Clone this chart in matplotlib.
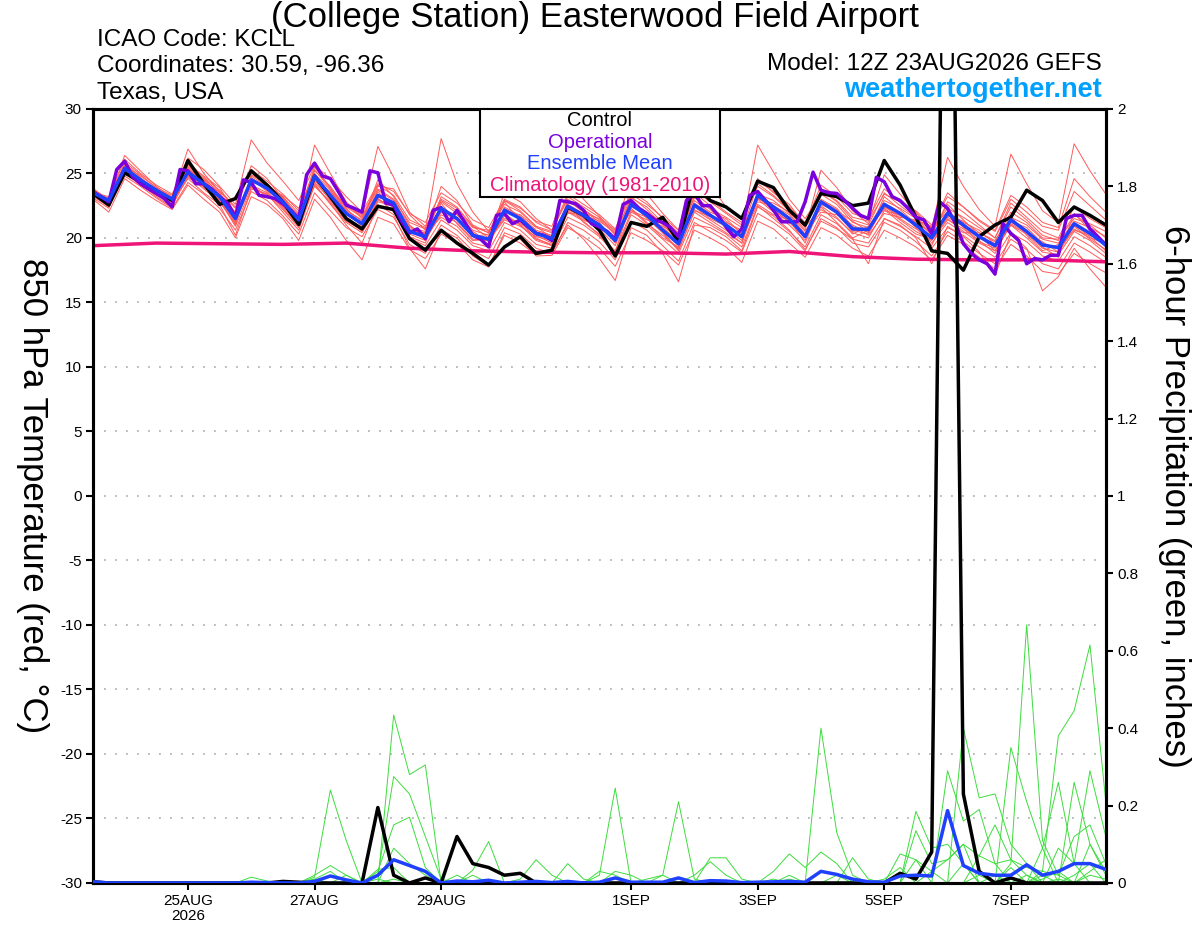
import matplotlib.pyplot as plt
import numpy as np
from matplotlib.patches import Rectangle

plt.rcParams['font.family'] = ['Liberation Sans', 'DejaVu Sans']
plt.rcParams['axes.unicode_minus'] = False

# forecast hours after 12Z 23AUG2026
hours = np.arange(0, 385, 6)
hours_op = np.arange(0, 385, 3)
clim_hours = np.arange(0, 385, 24)

tick_hours = [36, 84, 132, 204, 252, 300, 348]
tick_labels = ['25AUG\n2026', '27AUG', '29AUG', '1SEP', '3SEP', '5SEP', '7SEP']

# 850 hPa temperature, ensemble members (deg C)
temp_members = [
    [23.8, 23.0, 26.1, 25.0, 24.1, 23.4, 26.2, 25.3, 24.0, 22.6, 27.6, 25.8, 24.4,
     22.9, 25.6, 24.6, 23.2, 22.0, 24.2, 23.6, 21.9, 21.2, 23.5, 22.7, 21.4, 20.8,
     23.0, 22.4, 21.2, 20.6, 23.4, 22.6, 21.8, 20.7, 23.6, 22.8, 21.5, 20.4, 23.9,
     23.0, 22.0, 21.2, 24.6, 23.5, 22.6, 21.0, 24.1, 23.2, 21.9, 21.5, 23.8, 22.8,
     21.9, 20.8, 23.5, 22.4, 21.3, 20.5, 23.0, 22.0, 20.9, 20.6, 23.6, 22.5, 21.4],
    [23.2, 22.5, 24.8, 24.0, 23.1, 22.3, 24.3, 23.4, 22.3, 20.6, 23.6, 22.9, 21.7,
     20.3, 23.5, 22.1, 20.8, 20.1, 22.2, 21.6, 19.5, 18.8, 21.0, 20.2, 19.0, 18.4,
     20.8, 20.3, 19.2, 18.8, 21.2, 20.6, 19.7, 18.3, 21.3, 20.6, 19.4, 18.2, 21.2,
     20.5, 19.8, 18.9, 21.9, 21.2, 20.3, 19.0, 21.5, 20.8, 19.6, 19.3, 21.2, 20.6,
     19.7, 18.6, 20.5, 19.7, 18.8, 18.0, 19.9, 19.1, 18.0, 17.6, 19.6, 18.9, 18.1],
    [23.6, 22.7, 25.8, 24.7, 23.5, 22.6, 25.5, 24.4, 23.0, 21.0, 24.9, 24.2, 23.1,
     21.6, 27.2, 25.0, 22.8, 21.5, 24.0, 23.8, 21.8, 20.6, 27.7, 24.2, 22.0, 20.5,
     22.6, 22.0, 20.9, 20.0, 22.0, 21.3, 20.2, 19.0, 22.0, 21.4, 20.9, 20.2, 23.1,
     22.3, 21.6, 20.8, 23.0, 22.7, 22.0, 20.9, 22.2, 21.5, 20.4, 20.0, 22.1, 21.8,
     21.2, 20.4, 22.6, 21.4, 20.2, 19.0, 21.0, 20.0, 18.9, 18.7, 20.5, 19.8, 18.8],
    [23.4, 23.1, 25.2, 24.3, 23.8, 23.2, 24.9, 24.0, 23.4, 22.0, 24.0, 23.3, 22.5,
     21.0, 24.4, 23.6, 22.6, 21.8, 27.1, 24.7, 22.0, 20.9, 22.8, 21.9, 20.6, 20.2,
     21.8, 21.0, 19.8, 19.4, 22.8, 22.2, 21.4, 20.3, 23.2, 22.2, 21.0, 19.9, 22.6,
     21.8, 21.2, 20.6, 27.2, 25.1, 23.0, 21.5, 23.4, 22.6, 21.2, 20.8, 22.9, 22.3,
     21.5, 20.6, 22.3, 21.6, 20.8, 20.0, 22.4, 21.4, 20.2, 19.8, 21.8, 21.0, 20.0],
    [23.3, 22.4, 25.1, 24.6, 23.6, 22.8, 24.6, 23.5, 22.6, 20.2, 23.8, 23.4, 22.0,
     20.6, 24.1, 22.7, 21.0, 19.6, 22.6, 21.8, 19.2, 17.6, 20.6, 20.0, 18.6, 17.8,
     20.2, 19.6, 18.7, 18.9, 21.0, 19.9, 18.4, 16.7, 20.8, 20.2, 18.8, 16.6, 21.0,
     20.8, 20.1, 19.0, 22.4, 21.7, 20.6, 19.1, 21.3, 20.7, 19.9, 18.0, 21.5, 21.0,
     20.0, 18.0, 20.9, 20.1, 18.9, 17.1, 20.3, 19.2, 15.9, 17.0, 19.2, 17.6, 16.2],
    [23.7, 22.9, 26.4, 25.2, 24.0, 23.1, 26.9, 25.0, 23.6, 22.3, 25.3, 24.4, 23.4,
     22.1, 25.2, 24.0, 22.3, 21.0, 23.7, 22.9, 20.9, 20.3, 24.0, 22.9, 21.0, 20.4,
     22.9, 22.3, 21.3, 20.9, 24.3, 23.0, 21.7, 20.2, 25.0, 23.4, 21.9, 20.6, 25.5,
     24.1, 22.4, 21.4, 24.0, 23.2, 22.1, 20.6, 25.25, 23.9, 22.1, 21.1, 24.9, 23.4,
     22.0, 20.7, 26.25, 24.0, 22.2, 20.9, 26.5, 24.2, 22.1, 21.2, 27.3, 25.2, 23.4],
    [23.5, 23.2, 25.6, 24.8, 23.9, 22.9, 25.3, 24.6, 23.5, 21.4, 24.6, 23.6, 22.3,
     20.9, 24.9, 23.1, 21.6, 20.8, 23.0, 22.4, 20.3, 19.8, 22.0, 21.4, 20.4, 19.5,
     21.9, 21.0, 19.9, 19.5, 22.3, 21.5, 20.7, 19.4, 22.4, 21.9, 20.8, 19.8, 22.2,
     21.4, 20.6, 19.6, 23.0, 22.0, 21.0, 19.8, 22.5, 21.6, 20.3, 20.9, 22.3, 21.4,
     20.5, 19.8, 21.4, 20.7, 19.7, 19.2, 21.1, 20.4, 19.7, 18.9, 20.7, 20.0, 19.6],
    [23.9, 22.6, 25.0, 24.1, 23.3, 22.7, 25.7, 24.8, 23.9, 21.9, 24.2, 23.1, 22.9,
     21.8, 25.5, 23.9, 22.1, 21.4, 23.6, 22.3, 20.1, 19.6, 22.7, 21.1, 19.8, 19.9,
     21.5, 21.2, 20.0, 19.4, 21.9, 21.9, 21.5, 20.5, 22.2, 21.1, 20.2, 19.2, 22.9,
     22.0, 21.5, 20.3, 22.8, 22.5, 21.8, 20.3, 22.0, 21.8, 21.0, 20.4, 23.2, 22.2,
     21.1, 19.6, 21.2, 20.4, 20.4, 19.7, 22.0, 21.2, 20.0, 19.9, 21.5, 21.1, 20.5],
    [23.1, 22.3, 25.5, 24.4, 23.4, 22.5, 24.8, 23.8, 22.8, 21.1, 24.8, 24.0, 22.6,
     21.2, 24.6, 23.4, 22.2, 21.3, 23.1, 22.0, 20.6, 20.4, 21.6, 20.9, 19.6, 19.3,
     22.4, 21.7, 20.6, 20.2, 22.6, 21.2, 20.3, 18.9, 22.8, 21.5, 20.4, 19.1, 22.0,
     21.2, 20.4, 19.6, 23.6, 22.2, 21.2, 20.0, 23.0, 22.3, 20.9, 20.2, 21.9, 21.6,
     21.4, 20.9, 22.0, 21.2, 20.6, 19.5, 21.7, 20.2, 19.0, 19.5, 21.0, 20.1, 19.0],
    [23.6, 22.8, 25.3, 24.6, 23.7, 22.9, 25.0, 24.3, 23.1, 21.2, 24.3, 24.1, 23.2,
     21.5, 24.0, 22.8, 21.3, 20.6, 22.8, 22.5, 20.8, 20.5, 22.9, 22.1, 20.8, 20.6,
     22.0, 21.8, 20.8, 20.4, 22.1, 21.4, 20.8, 19.9, 22.5, 21.9, 21.3, 20.3, 22.4,
     21.5, 20.9, 20.2, 23.4, 22.9, 21.9, 20.5, 22.4, 21.2, 20.0, 20.6, 22.4, 21.7,
     21.3, 20.3, 21.7, 21.3, 20.4, 19.8, 21.6, 21.0, 19.9, 19.6, 21.3, 20.8, 20.1],
    [23.4, 22.6, 25.9, 24.9, 23.9, 23.3, 25.9, 24.7, 23.7, 22.4, 25.6, 24.6, 23.0,
     21.3, 24.3, 23.0, 21.8, 21.2, 24.5, 23.2, 21.0, 20.0, 23.2, 22.4, 20.9, 20.0,
     23.5, 22.8, 21.5, 20.6, 23.0, 22.2, 21.2, 19.6, 23.1, 22.4, 21.2, 19.7, 23.5,
     22.5, 21.3, 20.4, 24.2, 23.3, 22.2, 20.8, 23.7, 22.8, 21.4, 21.0, 23.5, 22.5,
     21.6, 20.2, 22.8, 22.0, 21.0, 20.0, 22.7, 21.6, 20.5, 20.0, 22.4, 21.5, 20.8],
    [23.0, 22.0, 24.6, 23.7, 22.9, 22.2, 24.1, 23.0, 22.0, 20.0, 23.2, 22.6, 21.5,
     19.8, 23.0, 21.6, 19.8, 18.3, 21.6, 21.1, 19.1, 18.4, 20.3, 19.6, 18.3, 17.75,
     20.4, 19.9, 18.6, 18.65, 20.8, 20.1, 19.2, 17.8, 20.4, 19.8, 19.0, 17.9, 20.6,
     20.0, 19.3, 18.1, 21.3, 20.7, 19.6, 18.5, 20.8, 20.2, 19.2, 18.6, 20.6, 20.0,
     19.3, 18.3, 20.2, 19.5, 18.5, 17.6, 19.5, 18.6, 17.4, 17.2, 18.8, 18.0, 17.3],
    [23.5, 22.7, 25.4, 24.2, 23.2, 22.4, 25.2, 24.5, 23.3, 21.7, 24.7, 23.7, 22.7,
     21.7, 25.0, 23.7, 22.0, 20.9, 23.4, 22.8, 20.4, 20.2, 22.4, 21.6, 20.1, 20.3,
     22.8, 21.3, 20.2, 19.6, 22.9, 22.0, 21.0, 20.0, 22.1, 21.6, 20.5, 19.4, 23.3,
     22.2, 21.1, 20.0, 22.6, 21.8, 21.4, 19.6, 22.6, 22.1, 21.3, 20.5, 22.7, 22.0,
     20.8, 19.4, 22.1, 20.8, 19.8, 18.8, 21.2, 20.6, 19.3, 18.5, 21.9, 20.6, 19.3],
    [23.3, 22.9, 25.5, 24.5, 23.6, 22.9, 25.4, 24.1, 22.9, 21.6, 24.4, 23.9, 23.3,
     22.3, 24.7, 23.5, 22.4, 21.6, 23.8, 23.0, 21.2, 20.7, 22.2, 21.8, 20.5, 19.7,
     21.7, 21.1, 20.4, 20.1, 22.5, 21.8, 21.3, 20.4, 22.9, 21.8, 20.4, 19.0, 22.1,
     21.7, 21.0, 20.0, 23.2, 22.1, 21.3, 20.2, 22.9, 22.2, 20.6, 20.3, 22.5, 21.5,
     20.7, 20.1, 21.6, 20.9, 20.0, 19.3, 21.3, 20.8, 19.6, 19.2, 20.6, 20.2, 19.7],
    [23.7, 23.0, 25.1, 24.3, 23.5, 23.0, 25.0, 24.0, 23.1, 21.3, 24.1, 23.5, 22.4,
     21.1, 24.5, 22.9, 21.5, 20.5, 22.9, 22.6, 20.6, 19.9, 21.8, 21.2, 19.9, 19.8,
     21.4, 20.9, 20.1, 19.8, 22.2, 21.6, 20.9, 19.7, 22.3, 21.2, 20.0, 19.3, 22.7,
     21.9, 20.8, 19.8, 23.1, 22.3, 21.6, 20.0, 22.7, 21.9, 20.5, 20.8, 22.2, 21.2,
     20.3, 19.9, 21.5, 20.5, 19.6, 19.0, 21.0, 20.3, 19.2, 18.9, 20.9, 19.9, 19.1],
    [23.6, 22.8, 25.7, 24.6, 23.8, 23.1, 25.6, 24.6, 23.5, 21.8, 24.6, 24.0, 23.2,
     21.9, 25.3, 23.8, 22.5, 21.7, 24.1, 23.3, 21.4, 20.8, 23.0, 22.3, 20.9, 20.4,
     22.9, 22.1, 20.9, 20.5, 23.2, 22.4, 21.6, 20.6, 23.4, 22.6, 21.6, 20.6, 23.7,
     22.8, 21.9, 21.0, 24.4, 23.6, 22.4, 21.2, 23.6, 22.9, 21.6, 21.3, 23.4, 22.8,
     22.1, 21.0, 23.2, 22.4, 21.4, 20.6, 23.3, 22.4, 21.2, 20.8, 24.6, 23.2, 22.0],
    [23.4, 22.5, 25.2, 24.4, 23.6, 22.6, 24.7, 23.9, 22.9, 20.9, 23.9, 23.4, 22.2,
     20.8, 24.2, 22.6, 21.2, 20.4, 22.5, 22.1, 20.0, 19.4, 21.4, 20.6, 19.4, 19.0,
     21.2, 20.6, 19.5, 19.2, 21.6, 21.0, 20.1, 18.8, 21.8, 21.0, 19.9, 18.8, 21.6,
     21.0, 20.3, 19.3, 22.5, 21.5, 20.5, 19.3, 21.8, 21.1, 19.9, 19.6, 21.5, 20.9,
     20.1, 19.2, 20.8, 20.2, 19.3, 18.5, 20.4, 19.7, 18.6, 18.2, 20.1, 19.4, 18.5],
    [23.5, 22.9, 25.3, 24.5, 23.7, 23.0, 25.2, 24.2, 23.3, 21.6, 24.5, 23.8, 22.8,
     21.4, 24.8, 23.3, 21.9, 21.0, 23.2, 22.7, 20.7, 20.2, 22.4, 21.5, 20.2, 20.0,
     22.3, 21.6, 20.5, 20.1, 22.6, 21.9, 21.1, 19.9, 22.6, 21.7, 20.7, 19.6, 22.6,
     21.8, 21.1, 20.2, 23.4, 22.5, 21.6, 20.2, 22.8, 22.0, 20.8, 20.7, 22.6, 21.9,
     21.0, 20.1, 21.9, 21.0, 20.1, 19.5, 21.4, 20.5, 19.5, 19.3, 21.1, 20.4, 19.5],
]

temp_control = [
    23.45, 22.55, 25.05, 24.35, 23.6, 22.9, 26.0, 24.2, 22.6, 23.05, 25.2, 24.1, 22.8,
    21.05, 24.8, 23.2, 21.5, 20.7, 22.45, 22.2, 19.95, 19.05, 20.6, 19.6, 18.8, 17.9,
    19.3, 20.1, 18.8, 19.05, 22.4, 21.75, 20.6, 18.6, 21.2, 20.9, 21.6, 19.7, 24.3,
    22.9, 22.4, 21.5, 24.4, 23.9, 22.15, 21.0, 23.45, 23.2, 22.5, 22.7, 26.0, 24.1,
    21.6, 19.0, 18.8, 17.5, 20.1, 21.0, 21.6, 23.7, 22.9, 21.2, 22.4, 21.75, 21.0]

temp_mean = [
    23.5, 22.9, 25.4, 24.5, 23.7, 23.0, 25.1, 24.2, 23.2, 21.5, 24.5, 23.85, 22.8,
    21.4, 24.8, 23.3, 21.9, 21.1, 23.3, 22.7, 20.5, 20.1, 22.3, 21.5, 20.2, 19.9,
    22.15, 21.5, 20.35, 19.95, 22.45, 21.75, 21.0, 19.8, 22.6, 21.75, 20.6, 19.55, 22.55,
    21.75, 21.0, 20.1, 23.3, 22.4, 21.5, 20.1, 22.8, 22.0, 20.7, 20.65, 22.6, 21.9,
    21.0, 20.0, 21.9, 21.0, 20.1, 19.4, 21.4, 20.5, 19.45, 19.25, 21.1, 20.35, 19.45]

# operational run, 3-hourly
temp_oper = [
    23.58, 23.2, 22.8, 25.3, 25.95, 24.75, 24.2, 23.8, 23.45, 23.05, 22.4, 25.3, 25.2, 24.2, 24.2, 23.8,
    23.2, 22.7, 21.6, 24.5, 24.3, 23.3, 23.2, 23.05, 22.65, 22.15, 21.5, 24.9, 25.8, 24.8, 24.6, 23.6,
    22.55, 22.3, 22.0, 25.2, 25.05, 22.7, 22.55, 21.3, 20.4, 20.7, 19.95, 22.15, 22.35, 21.25, 22.15, 21.2,
    20.2, 19.9, 19.3, 21.75, 21.9, 21.1, 21.4, 20.85, 20.35, 20.2, 19.8, 22.9, 22.8, 22.65, 22.15, 21.1,
    20.85, 20.5, 19.9, 22.6, 22.9, 22.3, 21.9, 21.4, 21.2, 20.8, 20.1, 22.9, 23.5, 22.5, 22.5, 21.75,
    20.85, 20.1, 20.7, 23.3, 23.6, 22.9, 22.15, 21.25, 21.25, 21.25, 22.8, 25.1, 23.7, 23.5, 23.45, 22.9,
    22.3, 21.75, 21.5, 24.7, 24.35, 23.2, 22.9, 22.3, 21.6, 21.4, 20.35, 22.8, 22.3, 21.1, 19.55, 18.8,
    18.3, 18.0, 17.2, 21.1, 20.35, 19.8, 18.0, 18.4, 18.3, 18.65, 18.65, 21.5, 21.75, 21.75, 20.7, 20.1,
    19.45]

temp_clim = [19.4, 19.6, 19.55, 19.5, 19.6, 19.2, 19.0, 18.9, 18.85,
             18.85, 18.75, 18.95, 18.55, 18.35, 18.3, 18.3, 18.15]

# 6-hour precipitation, ensemble members (inches)
precip_members = [
    [0.005, 0, 0, 0, 0, 0, 0, 0, 0, 0, 0, 0, 0,
     0, 0, 0, 0, 0, 0, 0.434, 0.28, 0.305, 0, 0, 0, 0,
     0, 0, 0, 0, 0, 0, 0, 0, 0, 0, 0, 0, 0,
     0, 0, 0, 0, 0, 0, 0, 0, 0, 0, 0, 0, 0,
     0, 0, 0, 0, 0, 0, 0.05, 0.667, 0.11, 0.02, 0, 0, 0],
    [0, 0, 0, 0, 0, 0, 0, 0, 0, 0, 0, 0, 0,
     0, 0, 0, 0, 0, 0.02, 0.275, 0.23, 0.12, 0.01, 0, 0, 0,
     0, 0, 0, 0, 0, 0, 0, 0, 0, 0, 0, 0, 0,
     0, 0, 0, 0, 0, 0, 0, 0, 0, 0, 0, 0, 0,
     0, 0, 0, 0, 0, 0, 0, 0, 0.03, 0.38, 0.445, 0.615, 0.21],
    [0, 0, 0, 0, 0, 0, 0, 0, 0, 0, 0, 0, 0,
     0, 0.02, 0.045, 0.02, 0, 0.03, 0.15, 0.17, 0.04, 0, 0, 0, 0,
     0, 0, 0, 0, 0, 0, 0, 0, 0, 0, 0, 0, 0,
     0, 0, 0, 0, 0, 0, 0, 0, 0, 0, 0, 0, 0,
     0, 0, 0.29, 0.16, 0.19, 0.05, 0, 0, 0, 0, 0, 0, 0],
    [0, 0, 0, 0, 0, 0, 0, 0, 0, 0, 0, 0, 0,
     0, 0.015, 0.24, 0.11, 0, 0, 0, 0, 0, 0, 0, 0, 0,
     0, 0, 0, 0, 0, 0, 0, 0, 0, 0, 0, 0, 0,
     0, 0, 0, 0, 0, 0, 0, 0.40, 0.13, 0.02, 0, 0, 0,
     0, 0, 0, 0, 0, 0, 0.35, 0.21, 0.09, 0.26, 0.05, 0.29, 0.12],
    [0, 0, 0, 0, 0, 0, 0, 0, 0, 0, 0, 0, 0,
     0, 0, 0, 0, 0, 0, 0.09, 0.05, 0.02, 0, 0, 0, 0,
     0, 0, 0, 0, 0, 0, 0.02, 0.245, 0, 0, 0, 0, 0,
     0, 0, 0, 0, 0, 0, 0, 0, 0, 0, 0, 0, 0,
     0, 0, 0, 0.40, 0.22, 0.23, 0.1, 0.05, 0, 0, 0, 0, 0],
    [0, 0, 0, 0, 0, 0, 0, 0, 0, 0, 0, 0, 0,
     0, 0, 0, 0, 0, 0, 0, 0, 0, 0, 0, 0, 0,
     0, 0, 0, 0, 0, 0, 0, 0, 0, 0, 0.02, 0.21, 0.01,
     0, 0, 0, 0, 0, 0, 0, 0, 0, 0, 0, 0, 0,
     0.185, 0.09, 0.1, 0.05, 0, 0, 0, 0, 0, 0, 0, 0, 0],
    [0, 0, 0, 0, 0, 0, 0, 0, 0, 0, 0, 0, 0,
     0, 0, 0, 0, 0, 0, 0, 0, 0, 0, 0, 0.033, 0.107,
     0, 0, 0, 0, 0, 0, 0, 0, 0, 0, 0, 0, 0,
     0, 0, 0, 0, 0, 0, 0, 0, 0, 0, 0, 0, 0,
     0.135, 0.05, 0.06, 0.1, 0.07, 0.15, 0.06, 0.02, 0, 0, 0, 0, 0],
    [0, 0, 0, 0, 0, 0, 0, 0, 0, 0, 0, 0, 0,
     0, 0, 0, 0, 0, 0, 0, 0, 0, 0, 0, 0, 0,
     0, 0, 0, 0, 0, 0, 0, 0, 0, 0, 0, 0, 0,
     0, 0, 0, 0, 0.03, 0.075, 0.04, 0.08, 0.05, 0, 0, 0, 0,
     0, 0, 0, 0, 0, 0, 0, 0, 0, 0, 0, 0.1, 0.03],
    [0, 0, 0, 0, 0, 0, 0, 0, 0, 0, 0, 0, 0,
     0, 0, 0, 0, 0, 0, 0, 0, 0, 0, 0, 0, 0,
     0, 0.01, 0.06, 0.02, 0, 0, 0, 0, 0, 0, 0, 0, 0,
     0.065, 0.065, 0.01, 0, 0, 0, 0, 0, 0, 0, 0, 0, 0.075,
     0.06, 0.03, 0, 0, 0, 0, 0, 0, 0, 0.09, 0.05, 0, 0],
    [0, 0, 0, 0, 0, 0, 0, 0, 0, 0, 0, 0, 0,
     0, 0, 0, 0, 0, 0, 0, 0, 0, 0, 0, 0, 0,
     0, 0, 0, 0, 0.05, 0.01, 0, 0.03, 0.02, 0, 0, 0, 0.02,
     0.055, 0.02, 0, 0, 0, 0, 0, 0, 0, 0, 0, 0, 0,
     0, 0, 0, 0, 0.07, 0.05, 0.06, 0.04, 0.03, 0.02, 0.12, 0.15, 0.05],
    [0, 0, 0, 0, 0, 0, 0, 0, 0, 0, 0.015, 0.005, 0,
     0, 0.01, 0.03, 0, 0, 0.035, 0.04, 0, 0, 0, 0, 0, 0,
     0, 0, 0, 0, 0, 0, 0, 0, 0, 0.01, 0.02, 0, 0,
     0, 0, 0, 0, 0, 0, 0, 0, 0, 0.065, 0.01, 0, 0,
     0, 0.03, 0.06, 0.1, 0, 0, 0, 0, 0.09, 0, 0, 0, 0],
    [0.005, 0.003, 0, 0, 0, 0, 0, 0, 0, 0, 0, 0, 0,
     0, 0, 0, 0, 0, 0, 0, 0, 0, 0, 0.02, 0, 0,
     0, 0, 0, 0, 0, 0, 0.03, 0.02, 0, 0, 0, 0, 0,
     0, 0, 0, 0, 0, 0.02, 0, 0, 0, 0, 0, 0.01, 0.04,
     0, 0, 0, 0, 0, 0, 0, 0, 0, 0, 0.26, 0.1, 0.02],
    [0, 0, 0, 0, 0, 0, 0, 0, 0, 0, 0, 0, 0,
     0, 0.01, 0, 0.02, 0, 0.01, 0, 0, 0, 0, 0, 0.02, 0,
     0, 0, 0, 0, 0, 0, 0, 0, 0, 0, 0, 0, 0,
     0, 0, 0, 0, 0.01, 0, 0, 0, 0.02, 0, 0, 0, 0,
     0.06, 0, 0, 0, 0, 0, 0, 0, 0, 0, 0, 0, 0],
    [0, 0, 0, 0, 0, 0, 0, 0, 0, 0, 0, 0, 0,
     0, 0, 0, 0, 0, 0, 0, 0, 0, 0, 0, 0, 0,
     0, 0, 0, 0, 0, 0, 0, 0, 0, 0, 0, 0, 0.005,
     0, 0, 0, 0, 0, 0, 0, 0, 0, 0, 0, 0, 0,
     0, 0, 0, 0.05, 0, 0.02, 0, 0, 0.01, 0.03, 0, 0.02, 0.01],
    [0, 0, 0, 0, 0, 0, 0, 0, 0, 0, 0, 0, 0,
     0, 0, 0, 0, 0, 0, 0.01, 0, 0, 0, 0, 0, 0,
     0, 0, 0, 0, 0, 0, 0, 0, 0, 0, 0, 0, 0,
     0, 0, 0, 0, 0, 0, 0, 0, 0, 0, 0, 0, 0,
     0, 0, 0, 0, 0.02, 0, 0.04, 0, 0, 0, 0.02, 0.05, 0],
    [0, 0, 0, 0, 0, 0, 0, 0, 0, 0, 0, 0, 0,
     0, 0, 0, 0, 0, 0, 0, 0, 0, 0, 0, 0, 0,
     0, 0, 0, 0, 0, 0, 0, 0, 0, 0, 0, 0, 0,
     0, 0, 0, 0, 0, 0, 0, 0, 0, 0, 0, 0, 0,
     0, 0, 0, 0, 0, 0, 0, 0.02, 0, 0.01, 0, 0.03, 0.06],
    [0.003, 0, 0, 0, 0, 0, 0, 0, 0, 0, 0, 0, 0,
     0, 0, 0, 0, 0, 0, 0, 0, 0, 0, 0, 0, 0,
     0, 0, 0, 0, 0, 0, 0, 0, 0, 0, 0, 0, 0,
     0, 0, 0, 0, 0, 0, 0, 0, 0, 0, 0, 0, 0,
     0, 0, 0, 0, 0, 0, 0.01, 0, 0.02, 0, 0, 0, 0],
    [0, 0, 0, 0, 0, 0, 0, 0, 0, 0, 0, 0, 0,
     0, 0, 0, 0, 0, 0, 0, 0, 0, 0, 0, 0, 0,
     0, 0, 0, 0, 0, 0, 0, 0, 0, 0, 0, 0, 0,
     0, 0, 0, 0, 0, 0.01, 0, 0, 0, 0, 0, 0, 0,
     0, 0, 0, 0, 0, 0, 0, 0, 0, 0, 0, 0, 0],
]

precip_control = [
    0.003, 0, 0, 0, 0, 0, 0, 0, 0, 0, 0, 0, 0.004,
    0.002, 0, 0, 0, 0, 0.195, 0.02, 0, 0.013, 0, 0.12, 0.05, 0.04,
    0.02, 0.025, 0, 0, 0, 0, 0, 0, 0, 0, 0, 0, 0,
    0, 0, 0, 0, 0, 0, 0, 0, 0, 0, 0, 0, 0.025,
    0.01, 0.08, 3.6, 0.23, 0.03, 0, 0.013, 0, 0, 0, 0, 0, 0]

precip_mean = [
    0.003, 0, 0, 0, 0, 0, 0, 0, 0, 0, 0.002, 0.001, 0,
    0, 0.004, 0.018, 0.008, 0, 0.02, 0.06, 0.045, 0.03, 0, 0.005, 0.003, 0.007,
    0, 0.002, 0.004, 0.001, 0.004, 0, 0.002, 0.013, 0.002, 0.002, 0.002, 0.013, 0.001,
    0.006, 0.005, 0.001, 0.002, 0.003, 0.004, 0.002, 0.03, 0.022, 0.01, 0.003, 0.002, 0.018,
    0.02, 0.018, 0.187, 0.045, 0.025, 0.02, 0.02, 0.047, 0.02, 0.03, 0.05, 0.05, 0.035]

c_red = '#ff5a5a'
c_green = '#3ddc3d'
c_oper = '#7a00dc'
c_mean = '#2040ff'
c_clim = '#ee1478'

fig = plt.figure(figsize=(12, 9.27), dpi=100)
ax = fig.add_axes([0.0775, 0.0475, 0.844, 0.835])
ax2 = ax.twinx()

for m in temp_members:
    ax.plot(hours, m, color=c_red, lw=0.7, zorder=2)
ax.plot(clim_hours, temp_clim, color=c_clim, lw=2.5, zorder=3)
ax.plot(hours, temp_control, color='black', lw=2.5, zorder=4)
ax.plot(hours_op, temp_oper, color=c_oper, lw=2.5, zorder=5)
ax.plot(hours, temp_mean, color=c_mean, lw=2.5, zorder=6)

for m in precip_members:
    ax2.plot(hours, m, color=c_green, lw=0.7, zorder=2)
ax2.plot(hours, precip_control, color='black', lw=2.5, zorder=3)
ax2.plot(hours, precip_mean, color=c_mean, lw=2.5, zorder=4)

ax.set_xlim(0, 384)
ax.set_ylim(-30, 30)
ax2.set_ylim(0, 2)
ax.set_yticks(np.arange(-30, 31, 5))
ax2.set_yticks(np.arange(0, 2.01, 0.2))
ax2.set_yticklabels([f'{v:g}' for v in np.arange(0, 2.01, 0.2)])
ax.set_xticks(tick_hours)
ax.set_xticklabels(tick_labels, linespacing=1.05)

for y in np.arange(-25, 30, 5):
    ax.axhline(y, color='#aaaaaa', lw=1.1, dashes=(1.2, 6), zorder=1)

for a in (ax, ax2):
    for s in a.spines.values():
        s.set_linewidth(2.2)
    a.tick_params(direction='out', length=5, width=1.5, labelsize=11, pad=3)

# legend box
ax2.add_patch(Rectangle((0.382, 0.886), 0.237, 0.114, transform=ax2.transAxes,
                        facecolor='white', edgecolor='black', lw=1.5, zorder=10))
leg = [('Control', 'black'), ('Operational', c_oper),
       ('Ensemble Mean', c_mean), ('Climatology (1981-2010)', c_clim)]
for k, (txt, col) in enumerate(leg):
    ax2.text(0.5005, 0.9845 - k * 0.0277, txt, color=col, fontsize=14.5,
             ha='center', va='center', transform=ax2.transAxes, zorder=11)

fig.text(0.496, 0.9806, '(College Station) Easterwood Field Airport',
         fontsize=25, ha='center', va='center')
fig.text(0.081, 0.957, 'ICAO Code: KCLL', fontsize=17.5, ha='left', va='center')
fig.text(0.081, 0.929, 'Coordinates: 30.59, -96.36', fontsize=17.5, ha='left', va='center')
fig.text(0.081, 0.900, 'Texas, USA', fontsize=17.5, ha='left', va='center')
fig.text(0.918, 0.931, 'Model: 12Z 23AUG2026 GEFS', fontsize=17.5, ha='right', va='center')
fig.text(0.918, 0.903, 'weathertogether.net', fontsize=19.5, fontweight='bold',
         color='#00a0ff', ha='right', va='center')

fig.text(0.027, 0.465, '850 hPa Temperature (red, °C)', fontsize=25,
         rotation=270, ha='center', va='center')
fig.text(0.979, 0.465, '6-hour Precipitation (green, inches)', fontsize=25,
         rotation=270, ha='center', va='center')

plt.savefig('out.png', dpi=100)
